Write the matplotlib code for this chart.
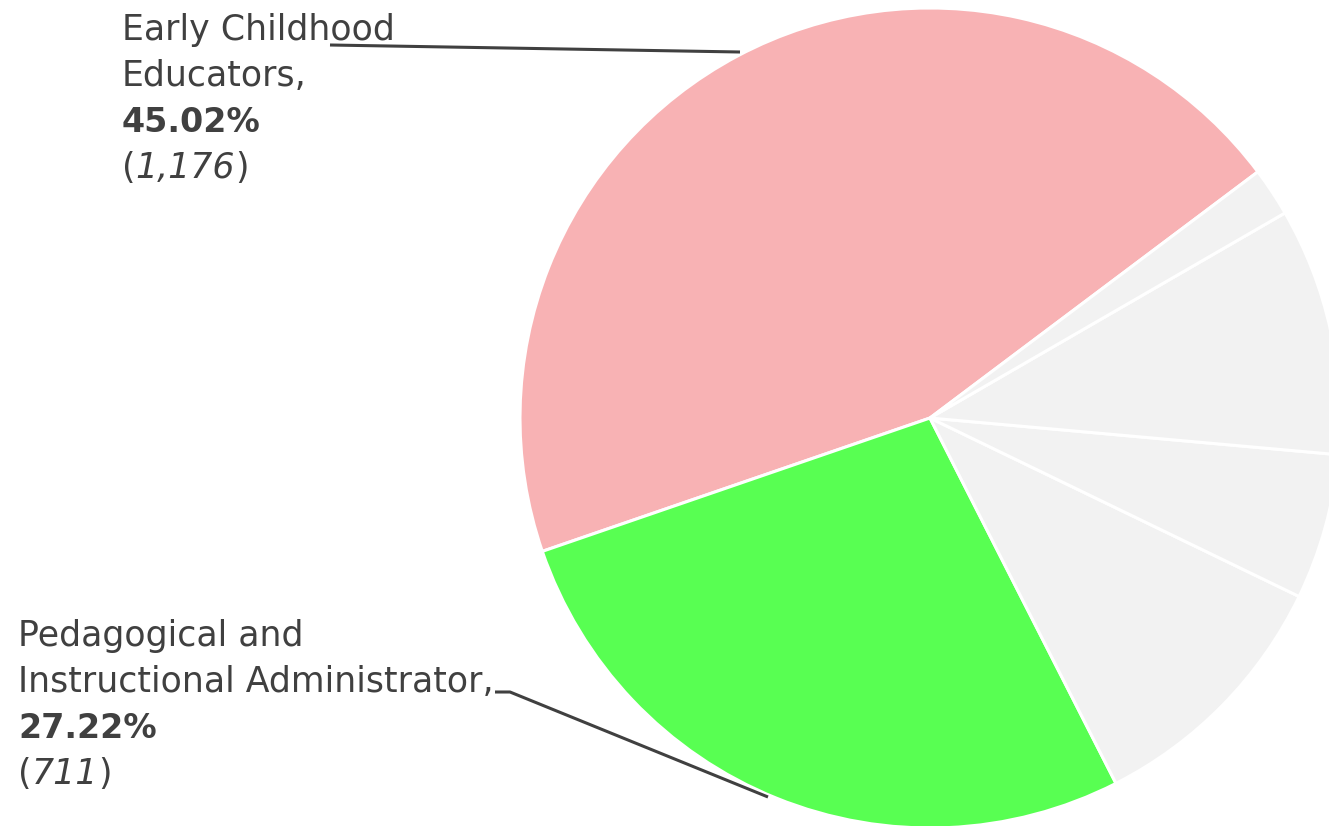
import matplotlib.pyplot as plt

# data
categories = ["Early Childhood Educators", "Pedagogical and Instructional Administrator",
              "Other D", "Other C", "Other B", "Other A"]
counts = [1176, 711, 270, 150, 255, 50]
percents = ["45.02%", "27.22%"]
colors = ["#F8B2B4", "#58FF52", "#F2F2F2", "#F2F2F2", "#F2F2F2", "#F2F2F2"]

W, H = 1329, 826
TXT = "#404040"
FONT = "DejaVu Sans"

fig = plt.figure(figsize=(W / 100, H / 100), dpi=100)
ax = fig.add_axes([0, 0, 1, 1])

ax.pie(counts, colors=colors, startangle=36.9, counterclock=True,
       center=(930, H - 418), radius=410, frame=True,
       wedgeprops=dict(edgecolor="white", linewidth=2.2))
ax.set_xlim(0, W)
ax.set_ylim(0, H)
ax.set_aspect("equal")
ax.axis("off")


def label(x, y0, lines, pct, cnt):
    fs = 25
    step = 46
    for i, ln in enumerate(lines):
        ax.text(x, H - (y0 + i * step), ln, fontsize=fs, color=TXT,
                family=FONT, va="baseline", ha="left")
    y = y0 + len(lines) * step
    ax.text(x, H - y, pct, fontsize=fs - 1, color=TXT, family=FONT,
            weight="bold", va="baseline", ha="left")
    y += step
    t1 = ax.text(x, H - y, "(", fontsize=fs, color=TXT, family=FONT,
                 va="baseline", ha="left")
    t2 = ax.annotate(cnt, xy=(1, 0), xycoords=t1, fontsize=fs, color=TXT,
                     family=FONT, style="italic", va="bottom", ha="left")
    ax.annotate(")", xy=(1, 0), xycoords=t2, fontsize=fs, color=TXT,
                family=FONT, va="bottom", ha="left")


label(122, 40, ["Early Childhood", "Educators,"], percents[0], "1,176")
label(18, 646, ["Pedagogical and", "Instructional Administrator,"],
      percents[1], "711")

# leader lines
ax.plot([330, 740], [H - 45, H - 52], color=TXT, lw=2.2, solid_capstyle="butt")
ax.plot([495, 510, 768], [H - 692, H - 692, H - 797], color=TXT, lw=2.2,
        solid_capstyle="butt")

fig.savefig("out.png", dpi=100)
